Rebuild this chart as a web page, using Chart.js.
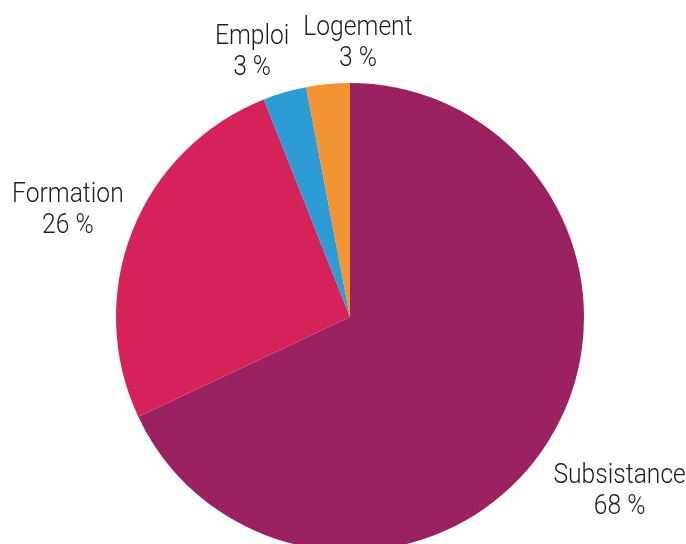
<!DOCTYPE html>
<html>
<head>
<meta charset="utf-8">
<script src="https://cdn.jsdelivr.net/npm/chart.js@4"></script>
<style>
  html, body { margin: 0; padding: 0; background: #fff; overflow: hidden; }
  #wrap { width: 686px; height: 560px; position: relative; }
</style>
</head>
<body>
<div id="wrap"><canvas id="chart1"></canvas></div>
<script>
var categories = ['Subsistance', 'Formation', 'Emploi', 'Logement'];
var values = [68, 26, 3, 3];
var valueLabels = ['68 %', '26 %', '3 %', '3 %'];
var colors = ['#9b2260', '#d5235a', '#2d9bd5', '#f39432'];

// labels outside the pie, pushed out along the middle angle of each slice
var outsideLabels = {
  id: 'outsideLabels',
  afterDatasetsDraw: function(chart) {
    var ctx = chart.ctx;
    var meta = chart.getDatasetMeta(0);
    var squeeze = 0.88; // fake a condensed face
    var lineH = 31;
    ctx.save();
    ctx.font = '300 28px "Roboto", sans-serif';
    ctx.fillStyle = '#1c1c1c';
    ctx.textAlign = 'center';
    ctx.textBaseline = 'middle';

    var boxes = meta.data.map(function(arc, i) {
      var mid = (arc.startAngle + arc.endAngle) / 2;
      var ux = Math.cos(mid), uy = Math.sin(mid);
      var w = squeeze * Math.max(ctx.measureText(categories[i]).width, ctx.measureText(valueLabels[i]).width);
      var h = lineH * 2;
      var d = Math.min(Math.abs(ux) > 0.001 ? (w / 2) / Math.abs(ux) : 1e9,
                       Math.abs(uy) > 0.001 ? (h / 2) / Math.abs(uy) : 1e9);
      var r = arc.outerRadius + 18 + d;
      return { i: i, x: arc.x + ux * r + 8, y: arc.y + uy * r + 8, w: w, h: h };
    });

    // push overlapping labels apart sideways
    for (var a = 0; a < boxes.length; a++) {
      for (var b = a + 1; b < boxes.length; b++) {
        var A = boxes[a], B = boxes[b];
        var oy = (A.h + B.h) / 2 - Math.abs(A.y - B.y);
        var ox = (A.w + B.w) / 2 + 14 - Math.abs(A.x - B.x);
        if (oy > 0 && ox > 0) {
          var s = A.x < B.x ? -1 : 1;
          A.x += s * ox / 2;
          B.x -= s * ox / 2;
        }
      }
    }

    boxes.forEach(function(bx) {
      [categories[bx.i], valueLabels[bx.i]].forEach(function(t, k) {
        ctx.save();
        ctx.translate(bx.x, bx.y + (k - 0.5) * lineH);
        ctx.scale(squeeze, 1);
        ctx.fillText(t, 0, 0);
        ctx.restore();
      });
    });
    ctx.restore();
  }
};

var ctx1 = document.getElementById('chart1').getContext('2d');
var chart1 = new Chart(ctx1, {
  type: 'pie',
  data: {
    labels: categories,
    datasets: [{
      data: values,
      backgroundColor: colors,
      borderWidth: 0
    }]
  },
  options: {
    responsive: true,
    maintainAspectRatio: false,
    animation: false,
    layout: { padding: { top: 83, bottom: 9, left: 116, right: 102 } },
    plugins: {
      legend: { display: false },
      tooltip: { enabled: false }
    }
  },
  plugins: [outsideLabels]
});
</script>
</body>
</html>
